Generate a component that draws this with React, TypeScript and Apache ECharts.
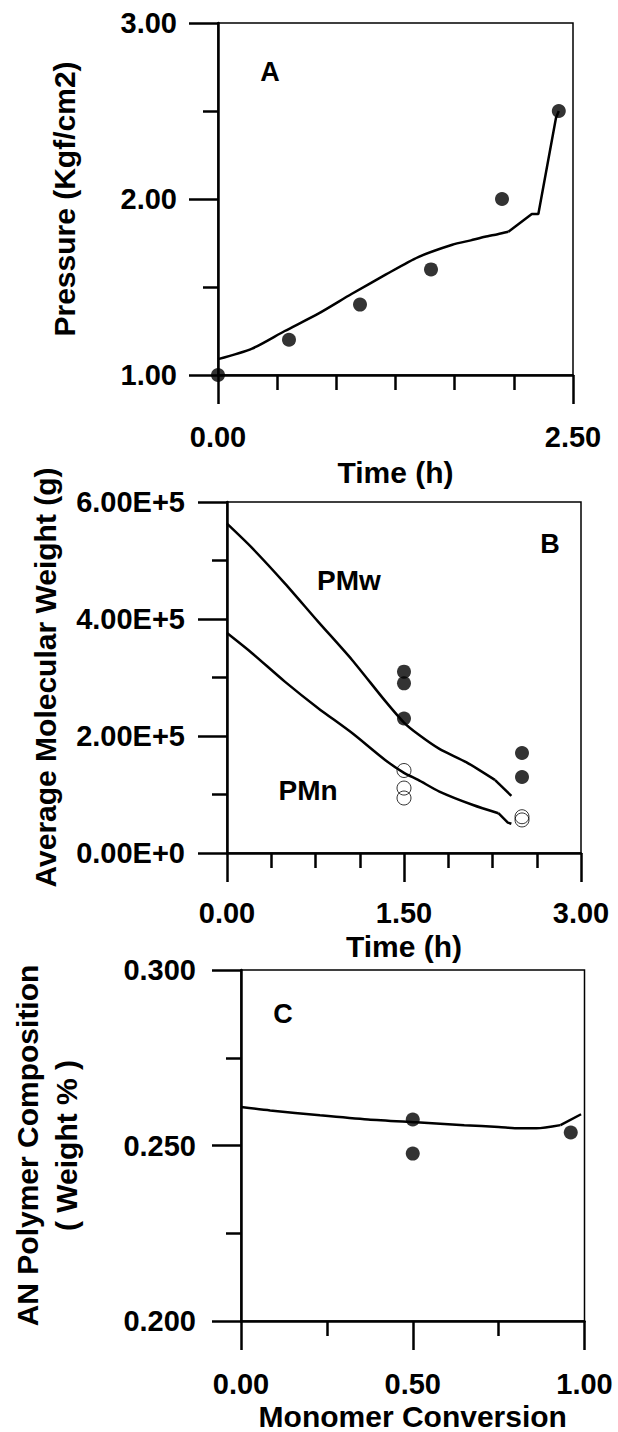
import React, { useEffect, useRef } from "react";
import * as echarts from "echarts";

// ---------- Panel A: pressure vs time ----------
const pressureTimeObs = [0, 0.5, 1.0, 1.5, 2.0, 2.4];
const pressureObs = [1.0, 1.2, 1.4, 1.6, 2.0, 2.5];
const pressureTimeModel = [0, 0.24, 0.47, 0.71, 0.94, 1.18, 1.41, 1.65, 1.78, 1.88, 1.97, 2.045, 2.21, 2.256, 2.38, 2.4];
const pressureModel = [1.09, 1.15, 1.25, 1.35, 1.46, 1.57, 1.67, 1.74, 1.765, 1.785, 1.8, 1.814, 1.915, 1.915, 2.46, 2.5];
const pressureSmoothEnd = 11; // index where the smooth part of the curve ends
const aXTickLabels = ["0.00", "2.50"];
const aYTickLabels = ["1.00", "2.00", "3.00"];

// ---------- Panel B: average molecular weight vs time ----------
const mwTimeModel = [0, 0.21, 0.49, 0.77, 1.06, 1.34, 1.5, 1.62, 1.8, 2.03, 2.27, 2.41];
const mwModel = [5.63e5, 5.22e5, 4.61e5, 3.96e5, 3.3e5, 2.6e5, 2.23e5, 2.03e5, 1.78e5, 1.55e5, 1.25e5, 0.975e5];
const mwSmoothEnd = 10;
const mnTimeModel = [0, 0.21, 0.49, 0.77, 1.06, 1.34, 1.5, 1.62, 1.8, 2.085, 2.3, 2.38, 2.41];
const mnModel = [3.76e5, 3.42e5, 2.93e5, 2.48e5, 2.05e5, 1.59e5, 1.37e5, 1.25e5, 1.05e5, 0.82e5, 0.68e5, 0.52e5, 0.5e5];
const mnSmoothEnd = 10;
const mwObsTime = [1.5, 1.5, 1.5, 2.5, 2.5];
const mwObs = [3.1e5, 2.9e5, 2.3e5, 1.71e5, 1.3e5];
const mnObsTime = [1.5, 1.5, 1.5, 2.5, 2.5];
const mnObs = [1.41e5, 1.11e5, 0.94e5, 0.62e5, 0.565e5];
const bXTickLabels = ["0.00", "1.50", "3.00"];
const bYTickLabels = ["0.00E+0", "2.00E+5", "4.00E+5", "6.00E+5"];

// ---------- Panel C: AN polymer composition vs conversion ----------
const convObs = [0.5, 0.5, 0.96];
const compObs = [0.2574, 0.2477, 0.2537];
const convModel = [0, 0.085, 0.23, 0.37, 0.51, 0.65, 0.75, 0.81, 0.86, 0.93, 0.99];
const compModel = [0.261, 0.26, 0.2586, 0.2574, 0.2566, 0.2558, 0.2553, 0.2549, 0.2549, 0.2558, 0.2589];
const compSmoothEnd = 9;
const cXTickLabels = ["0.00", "0.50", "1.00"];
const cYTickLabels = ["0.200", "0.250", "0.300"];

const FONT = '"Liberation Sans", Arial, Helvetica, sans-serif';
const BLACK = "#000";

const zip = (xs: number[], ys: number[]) => xs.map((x, i) => [x, ys[i]]);

function axisBase(opts: any) {
  const { gridIndex, min, max, interval, minorSplit, labels, margin, name, nameGap, nameLineHeight } = opts;
  return {
    type: "value",
    gridIndex,
    min,
    max,
    interval,
    name,
    nameLocation: "middle",
    nameGap,
    nameTextStyle: {
      fontFamily: FONT,
      fontWeight: "bold",
      fontSize: 30,
      color: BLACK,
      lineHeight: nameLineHeight,
    },
    axisLine: { show: true, onZero: false, lineStyle: { color: BLACK, width: 2.5 } },
    axisTick: { show: true, length: 29, lineStyle: { color: BLACK, width: 2.5 } },
    minorTick: { show: true, splitNumber: minorSplit, length: 15, lineStyle: { color: BLACK, width: 2.5 } },
    splitLine: { show: false },
    minorSplitLine: { show: false },
    axisLabel: {
      show: true,
      margin,
      fontFamily: FONT,
      fontWeight: "bold",
      fontSize: 29,
      color: BLACK,
      showMinLabel: true,
      showMaxLabel: true,
      hideOverlap: false,
      formatter: (_v: number, i: number) => labels[i],
    },
  };
}

const lineStyle = { color: BLACK, width: 2.5 };

function modelCurve(axis: number, xs: number[], ys: number[], smoothEnd: number) {
  const pts = zip(xs, ys);
  return [
    {
      type: "line", xAxisIndex: axis, yAxisIndex: axis, data: pts.slice(0, smoothEnd + 1),
      showSymbol: false, smooth: 0.25, lineStyle, z: 3,
    },
    {
      type: "line", xAxisIndex: axis, yAxisIndex: axis, data: pts.slice(smoothEnd),
      showSymbol: false, lineStyle, z: 3,
    },
  ];
}

function dots(axis: number, xs: number[], ys: number[], open = false) {
  return {
    type: "scatter", xAxisIndex: axis, yAxisIndex: axis, data: zip(xs, ys), symbol: "circle", symbolSize: 14,
    itemStyle: open ? { color: "transparent", borderColor: BLACK, borderWidth: 1 } : { color: BLACK },
    clip: false, z: 4,
  };
}

export default function App() {
  const ref = useRef<HTMLDivElement>(null);
  useEffect(() => {
    if (!ref.current) return;
    const chart = echarts.init(ref.current, undefined, { renderer: "svg" });
    const textStyle = (text: string, size: number) => ({
      text,
      fontFamily: FONT,
      fontWeight: "bold",
      fontSize: size,
      fill: BLACK,
      align: "center",
      verticalAlign: "middle",
    });
    chart.setOption({
      animation: false,
      backgroundColor: "#fff",
      grid: [
        { left: 218, top: 23, width: 355, height: 352, show: true, borderColor: BLACK, borderWidth: 1.5 },
        { left: 227, top: 502, width: 354, height: 351, show: true, borderColor: BLACK, borderWidth: 1.5 },
        { left: 231.5, top: 970, width: 353, height: 352, show: true, borderColor: BLACK, borderWidth: 1.5 },
      ],
      xAxis: [
        axisBase({ gridIndex: 0, min: 0, max: 2.5, interval: 2.5, minorSplit: 6, labels: aXTickLabels, margin: 47, name: "Time (h)", nameGap: 82 }),
        axisBase({ gridIndex: 1, min: 0, max: 3, interval: 1.5, minorSplit: 4, labels: bXTickLabels, margin: 45, name: "Time (h)", nameGap: 78 }),
        axisBase({ gridIndex: 2, min: 0, max: 1, interval: 0.5, minorSplit: 2, labels: cXTickLabels, margin: 48, name: "Monomer Conversion", nameGap: 80 }),
      ],
      yAxis: [
        axisBase({ gridIndex: 0, min: 1, max: 3, interval: 1, minorSplit: 2, labels: aYTickLabels, margin: 41, name: "Pressure (Kgf/cm2)", nameGap: 139 }),
        axisBase({ gridIndex: 1, min: 0, max: 6e5, interval: 2e5, minorSplit: 2, labels: bYTickLabels, margin: 42, name: "Average Molecular Weight (g)", nameGap: 167 }),
        axisBase({ gridIndex: 2, min: 0.2, max: 0.3, interval: 0.05, minorSplit: 2, labels: cYTickLabels, margin: 45, name: "AN Polymer Composition\n( Weight % )", nameGap: 155, nameLineHeight: 39 }),
      ],
      series: [
        ...modelCurve(0, pressureTimeModel, pressureModel, pressureSmoothEnd),
        dots(0, pressureTimeObs, pressureObs),
        ...modelCurve(1, mwTimeModel, mwModel, mwSmoothEnd),
        ...modelCurve(1, mnTimeModel, mnModel, mnSmoothEnd),
        dots(1, mwObsTime, mwObs),
        dots(1, mnObsTime, mnObs, true),
        ...modelCurve(2, convModel, compModel, compSmoothEnd),
        dots(2, convObs, compObs),
      ],
      graphic: [
        { type: "text", x: 270, y: 72, style: textStyle("A", 27) },
        { type: "text", x: 550, y: 544, style: textStyle("B", 27) },
        { type: "text", x: 349, y: 580, style: textStyle("PMw", 28) },
        { type: "text", x: 308, y: 790, style: textStyle("PMn", 28) },
        { type: "text", x: 283, y: 1014, style: textStyle("C", 27) },
      ],
    });
    return () => chart.dispose();
  }, []);
  return (
    <div
      ref={ref}
      style={{ position: "absolute", left: 0, top: 0, width: 618, height: 1432, background: "#fff" }}
    />
  );
}
